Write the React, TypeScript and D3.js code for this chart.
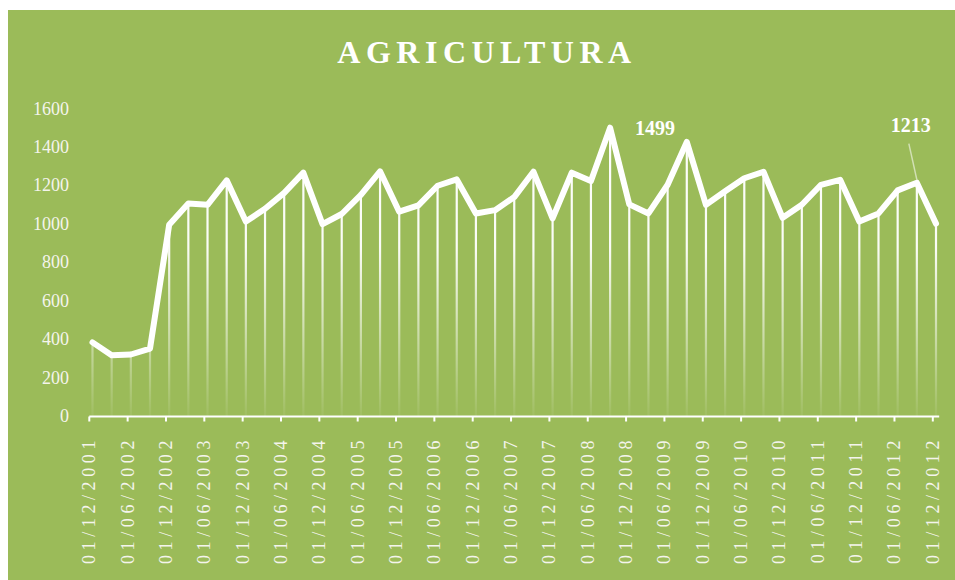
import * as d3 from "d3";

// quarterly observations
const quarters = [
  "01/12/2001", "01/03/2002", "01/06/2002", "01/09/2002",
  "01/12/2002", "01/03/2003", "01/06/2003", "01/09/2003",
  "01/12/2003", "01/03/2004", "01/06/2004", "01/09/2004",
  "01/12/2004", "01/03/2005", "01/06/2005", "01/09/2005",
  "01/12/2005", "01/03/2006", "01/06/2006", "01/09/2006",
  "01/12/2006", "01/03/2007", "01/06/2007", "01/09/2007",
  "01/12/2007", "01/03/2008", "01/06/2008", "01/09/2008",
  "01/12/2008", "01/03/2009", "01/06/2009", "01/09/2009",
  "01/12/2009", "01/03/2010", "01/06/2010", "01/09/2010",
  "01/12/2010", "01/03/2011", "01/06/2011", "01/09/2011",
  "01/12/2011", "01/03/2012", "01/06/2012", "01/09/2012",
  "01/12/2012",
];

const values = [
  382, 315, 319, 350,
  994, 1105, 1098, 1225,
  1011, 1077, 1160, 1265,
  997, 1050, 1150, 1272,
  1062, 1095, 1197, 1230,
  1053, 1070, 1138, 1270,
  1027, 1265, 1222, 1499,
  1100, 1053, 1202, 1425,
  1098, 1168, 1236, 1270,
  1030, 1098, 1202, 1228,
  1011, 1053, 1173, 1213,
  1000,
];

const tickLabels = [
  "01/12/2001", "01/06/2002", "01/12/2002", "01/06/2003", "01/12/2003",
  "01/06/2004", "01/12/2004", "01/06/2005", "01/12/2005", "01/06/2006",
  "01/12/2006", "01/06/2007", "01/12/2007", "01/06/2008", "01/12/2008",
  "01/06/2009", "01/12/2009", "01/06/2010", "01/12/2010", "01/06/2011",
  "01/12/2011", "01/06/2012", "01/12/2012",
];

const yTicks = [0, 200, 400, 600, 800, 1000, 1200, 1400, 1600];

// labelled points
const callouts = [
  { date: "01/09/2008", value: 1499, dx: 45, dy: 7, leader: false },
  { date: "01/09/2012", value: 1213, dx: -6, dy: -51, leader: true },
];

const W = 955;
const H = 580;
const bg = "#9BBB59";
const serif = "'Liberation Serif', 'Times New Roman', serif";

// month index counted from Dec 2001
const monthIndex = (s: string) => {
  const [, mm, yyyy] = s.split("/").map(Number);
  return (yyyy - 2001) * 12 + mm - 12;
};

export default function App() {
  const x = d3.scaleLinear().domain([0, 133]).range([89.3, 939.2]);
  const y = d3.scaleLinear().domain([0, 1600]).range([415.8, 108.3]);

  const pts = quarters.map((q, i) => ({
    x: x(monthIndex(q) + 0.5),
    y: y(values[i]),
  }));

  const line = d3
    .line<{ x: number; y: number }>()
    .x((d) => d.x)
    .y((d) => d.y);

  const axisY = 416.5;

  return (
    <svg
      width={W}
      height={H}
      style={{ position: "absolute", left: 0, top: 0, display: "block" }}
    >
      <defs>
        <linearGradient
          id="drop"
          gradientUnits="userSpaceOnUse"
          x1="0"
          y1={y(1600)}
          x2="0"
          y2={axisY}
        >
          <stop offset="0" stopColor="#fff" stopOpacity={1} />
          <stop offset="0.45" stopColor="#fff" stopOpacity={0.95} />
          <stop offset="1" stopColor="#fff" stopOpacity={0.05} />
        </linearGradient>
      </defs>
      <rect x={8} y={10} width={W - 8} height={H - 10} fill={bg} />

      <text
        x={487}
        y={62.5}
        textAnchor="middle"
        fill="#fff"
        fontFamily={serif}
        fontWeight="bold"
        fontSize={32}
        letterSpacing={5.5}
      >
        AGRICULTURA
      </text>

      {/* y labels */}
      {yTicks.map((t) => (
        <text
          key={t}
          x={69}
          y={y(t)}
          dy="0.35em"
          textAnchor="end"
          fill="#f4f4ec"
          fontFamily={serif}
          fontSize={18}
        >
          {t}
        </text>
      ))}

      {/* drop lines */}
      {pts.map((p, i) => (
        <line
          key={i}
          x1={p.x}
          x2={p.x}
          y1={p.y}
          y2={axisY}
          stroke="url(#drop)"
          strokeWidth={2.2}
        />
      ))}

      {/* x axis */}
      <line
        x1={x(0)}
        x2={x(133)}
        y1={axisY}
        y2={axisY}
        stroke="#fff"
        strokeWidth={2}
      />
      {tickLabels.map((lbl) => {
        const tx = x(monthIndex(lbl));
        return (
          <g key={lbl}>
            <line
              x1={tx}
              x2={tx}
              y1={axisY}
              y2={axisY + 5}
              stroke="#fff"
              strokeWidth={2}
            />
            <text
              transform={`translate(${tx + 6},${436}) rotate(-90)`}
              textAnchor="end"
              fill="#f4f4ec"
              fontFamily={serif}
              fontSize={18}
              letterSpacing={4.6}
            >
              {lbl}
            </text>
          </g>
        );
      })}

      {/* main line */}
      <path
        d={line(pts) ?? ""}
        fill="none"
        stroke="#fff"
        strokeWidth={6}
        strokeLinejoin="round"
        strokeLinecap="round"
      />

      {/* callouts */}
      {callouts.map((c) => {
        const px = x(monthIndex(c.date) + 0.5);
        const py = y(c.value);
        const lx = px + c.dx;
        const ly = py + c.dy;
        return (
          <g key={c.date}>
            {c.leader && (
              <line
                x1={lx - 2}
                y1={ly + 12}
                x2={px}
                y2={py - 3}
                stroke="#fff"
                strokeOpacity={0.55}
                strokeWidth={1.5}
              />
            )}
            <text
              x={lx}
              y={ly}
              textAnchor="middle"
              fill="#fff"
              fontFamily={serif}
              fontWeight={600}
              fontSize={20}
            >
              {c.value}
            </text>
          </g>
        );
      })}
    </svg>
  );
}
